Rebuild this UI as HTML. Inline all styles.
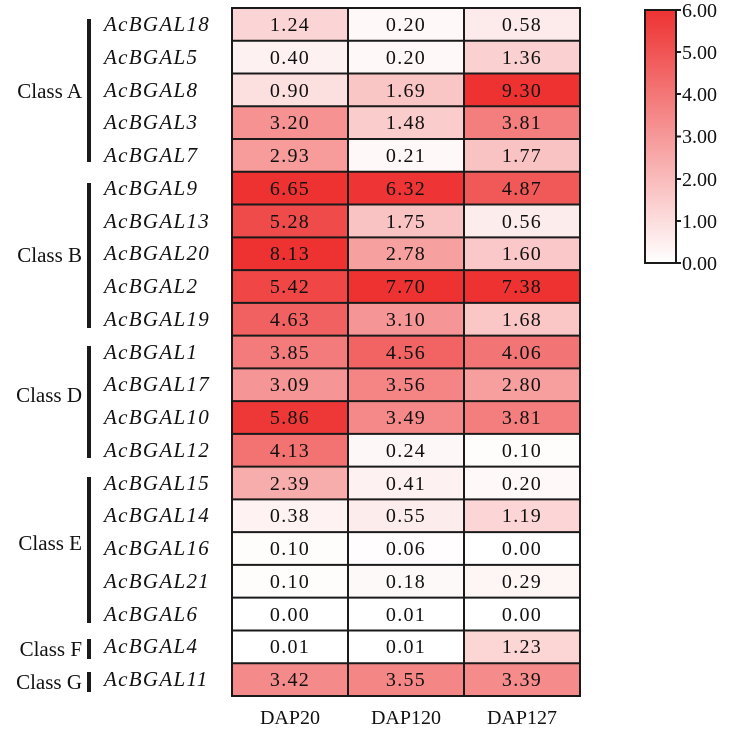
<!DOCTYPE html>
<html><head><meta charset="utf-8"><style>
html,body{margin:0;padding:0;background:#fff;}
svg, svg text{font-family:"Liberation Serif","Times New Roman",Times,serif;}
svg text{fill:#111;}
.g{font-style:italic;font-size:21px;letter-spacing:1.3px;}
.v{font-size:20px;letter-spacing:1.3px;text-anchor:middle;}
.c{font-size:21px;text-anchor:end;}
.t{font-size:20px;}
</style></head><body>
<svg width="730" height="733" viewBox="0 0 730 733" xmlns="http://www.w3.org/2000/svg" font-family="Liberation Serif, Times New Roman, serif">
<defs><linearGradient id="cb" x1="0" y1="1" x2="0" y2="0">
<stop offset="0" stop-color="#fff"/><stop offset="1" stop-color="#ee3232"/></linearGradient></defs>
<g stroke="none">
<rect x="232" y="8" width="116" height="32.76" fill="rgb(251,213,213)"/><rect x="348" y="8" width="116" height="32.76" fill="rgb(254,248,248)"/><rect x="464" y="8" width="116" height="32.76" fill="rgb(253,235,235)"/>
<rect x="232" y="40.76" width="116" height="32.76" fill="rgb(254,241,241)"/><rect x="348" y="40.76" width="116" height="32.76" fill="rgb(254,248,248)"/><rect x="464" y="40.76" width="116" height="32.76" fill="rgb(251,208,208)"/>
<rect x="232" y="73.52" width="116" height="32.76" fill="rgb(252,224,224)"/><rect x="348" y="73.52" width="116" height="32.76" fill="rgb(250,197,197)"/><rect x="464" y="73.52" width="116" height="32.76" fill="rgb(238,50,50)"/>
<rect x="232" y="106.28" width="116" height="32.76" fill="rgb(246,146,146)"/><rect x="348" y="106.28" width="116" height="32.76" fill="rgb(251,204,204)"/><rect x="464" y="106.28" width="116" height="32.76" fill="rgb(244,125,125)"/>
<rect x="232" y="139.04" width="116" height="32.76" fill="rgb(247,155,155)"/><rect x="348" y="139.04" width="116" height="32.76" fill="rgb(254,248,248)"/><rect x="464" y="139.04" width="116" height="32.76" fill="rgb(250,195,195)"/>
<rect x="232" y="171.8" width="116" height="32.76" fill="rgb(238,50,50)"/><rect x="348" y="171.8" width="116" height="32.76" fill="rgb(238,52,52)"/><rect x="464" y="171.8" width="116" height="32.76" fill="rgb(241,89,89)"/>
<rect x="232" y="204.56" width="116" height="32.76" fill="rgb(240,75,75)"/><rect x="348" y="204.56" width="116" height="32.76" fill="rgb(250,195,195)"/><rect x="464" y="204.56" width="116" height="32.76" fill="rgb(253,236,236)"/>
<rect x="232" y="237.32" width="116" height="32.76" fill="rgb(238,50,50)"/><rect x="348" y="237.32" width="116" height="32.76" fill="rgb(247,160,160)"/><rect x="464" y="237.32" width="116" height="32.76" fill="rgb(250,200,200)"/>
<rect x="232" y="270.08" width="116" height="32.76" fill="rgb(240,70,70)"/><rect x="348" y="270.08" width="116" height="32.76" fill="rgb(238,50,50)"/><rect x="464" y="270.08" width="116" height="32.76" fill="rgb(238,50,50)"/>
<rect x="232" y="302.84" width="116" height="32.76" fill="rgb(242,97,97)"/><rect x="348" y="302.84" width="116" height="32.76" fill="rgb(246,149,149)"/><rect x="464" y="302.84" width="116" height="32.76" fill="rgb(250,198,198)"/>
<rect x="232" y="335.6" width="116" height="32.76" fill="rgb(244,123,123)"/><rect x="348" y="335.6" width="116" height="32.76" fill="rgb(242,99,99)"/><rect x="464" y="335.6" width="116" height="32.76" fill="rgb(243,116,116)"/>
<rect x="232" y="368.36" width="116" height="32.76" fill="rgb(246,149,149)"/><rect x="348" y="368.36" width="116" height="32.76" fill="rgb(245,133,133)"/><rect x="464" y="368.36" width="116" height="32.76" fill="rgb(247,159,159)"/>
<rect x="232" y="401.12" width="116" height="32.76" fill="rgb(238,55,55)"/><rect x="348" y="401.12" width="116" height="32.76" fill="rgb(245,136,136)"/><rect x="464" y="401.12" width="116" height="32.76" fill="rgb(244,125,125)"/>
<rect x="232" y="433.88" width="116" height="32.76" fill="rgb(243,114,114)"/><rect x="348" y="433.88" width="116" height="32.76" fill="rgb(254,247,247)"/><rect x="464" y="433.88" width="116" height="32.76" fill="rgb(255,252,252)"/>
<rect x="232" y="466.64" width="116" height="32.76" fill="rgb(248,173,173)"/><rect x="348" y="466.64" width="116" height="32.76" fill="rgb(254,241,241)"/><rect x="464" y="466.64" width="116" height="32.76" fill="rgb(254,248,248)"/>
<rect x="232" y="499.4" width="116" height="32.76" fill="rgb(254,242,242)"/><rect x="348" y="499.4" width="116" height="32.76" fill="rgb(253,236,236)"/><rect x="464" y="499.4" width="116" height="32.76" fill="rgb(252,214,214)"/>
<rect x="232" y="532.16" width="116" height="32.76" fill="rgb(255,252,252)"/><rect x="348" y="532.16" width="116" height="32.76" fill="rgb(255,253,253)"/><rect x="464" y="532.16" width="116" height="32.76" fill="#fff"/>
<rect x="232" y="564.92" width="116" height="32.76" fill="rgb(255,252,252)"/><rect x="348" y="564.92" width="116" height="32.76" fill="rgb(254,249,249)"/><rect x="464" y="564.92" width="116" height="32.76" fill="rgb(254,245,245)"/>
<rect x="232" y="597.68" width="116" height="32.76" fill="#fff"/><rect x="348" y="597.68" width="116" height="32.76" fill="#fff"/><rect x="464" y="597.68" width="116" height="32.76" fill="#fff"/>
<rect x="232" y="630.44" width="116" height="32.76" fill="#fff"/><rect x="348" y="630.44" width="116" height="32.76" fill="#fff"/><rect x="464" y="630.44" width="116" height="32.76" fill="rgb(252,213,213)"/>
<rect x="232" y="663.2" width="116" height="32.76" fill="rgb(245,138,138)"/><rect x="348" y="663.2" width="116" height="32.76" fill="rgb(245,134,134)"/><rect x="464" y="663.2" width="116" height="32.76" fill="rgb(245,139,139)"/>
</g>
<g stroke="#1a1a1a" stroke-width="2">
<rect x="232" y="8" width="348" height="688" fill="none"/>
<line x1="348" y1="8" x2="348" y2="696"/><line x1="464" y1="8" x2="464" y2="696"/>
<line x1="232" y1="40.76" x2="580" y2="40.76"/><line x1="232" y1="73.52" x2="580" y2="73.52"/><line x1="232" y1="106.28" x2="580" y2="106.28"/><line x1="232" y1="139.04" x2="580" y2="139.04"/><line x1="232" y1="171.8" x2="580" y2="171.8"/><line x1="232" y1="204.56" x2="580" y2="204.56"/><line x1="232" y1="237.32" x2="580" y2="237.32"/><line x1="232" y1="270.08" x2="580" y2="270.08"/><line x1="232" y1="302.84" x2="580" y2="302.84"/><line x1="232" y1="335.6" x2="580" y2="335.6"/><line x1="232" y1="368.36" x2="580" y2="368.36"/><line x1="232" y1="401.12" x2="580" y2="401.12"/><line x1="232" y1="433.88" x2="580" y2="433.88"/><line x1="232" y1="466.64" x2="580" y2="466.64"/><line x1="232" y1="499.4" x2="580" y2="499.4"/><line x1="232" y1="532.16" x2="580" y2="532.16"/><line x1="232" y1="564.92" x2="580" y2="564.92"/><line x1="232" y1="597.68" x2="580" y2="597.68"/><line x1="232" y1="630.44" x2="580" y2="630.44"/><line x1="232" y1="663.2" x2="580" y2="663.2"/>
</g>
<text class="v" x="290" y="31">1.24</text><text class="v" x="406" y="31">0.20</text><text class="v" x="522" y="31">0.58</text>
<text class="v" x="290" y="64">0.40</text><text class="v" x="406" y="64">0.20</text><text class="v" x="522" y="64">1.36</text>
<text class="v" x="290" y="97">0.90</text><text class="v" x="406" y="97">1.69</text><text class="v" x="522" y="97">9.30</text>
<text class="v" x="290" y="129">3.20</text><text class="v" x="406" y="129">1.48</text><text class="v" x="522" y="129">3.81</text>
<text class="v" x="290" y="162">2.93</text><text class="v" x="406" y="162">0.21</text><text class="v" x="522" y="162">1.77</text>
<text class="v" x="290" y="195">6.65</text><text class="v" x="406" y="195">6.32</text><text class="v" x="522" y="195">4.87</text>
<text class="v" x="290" y="228">5.28</text><text class="v" x="406" y="228">1.75</text><text class="v" x="522" y="228">0.56</text>
<text class="v" x="290" y="260">8.13</text><text class="v" x="406" y="260">2.78</text><text class="v" x="522" y="260">1.60</text>
<text class="v" x="290" y="293">5.42</text><text class="v" x="406" y="293">7.70</text><text class="v" x="522" y="293">7.38</text>
<text class="v" x="290" y="326">4.63</text><text class="v" x="406" y="326">3.10</text><text class="v" x="522" y="326">1.68</text>
<text class="v" x="290" y="359">3.85</text><text class="v" x="406" y="359">4.56</text><text class="v" x="522" y="359">4.06</text>
<text class="v" x="290" y="391">3.09</text><text class="v" x="406" y="391">3.56</text><text class="v" x="522" y="391">2.80</text>
<text class="v" x="290" y="424">5.86</text><text class="v" x="406" y="424">3.49</text><text class="v" x="522" y="424">3.81</text>
<text class="v" x="290" y="457">4.13</text><text class="v" x="406" y="457">0.24</text><text class="v" x="522" y="457">0.10</text>
<text class="v" x="290" y="490">2.39</text><text class="v" x="406" y="490">0.41</text><text class="v" x="522" y="490">0.20</text>
<text class="v" x="290" y="522">0.38</text><text class="v" x="406" y="522">0.55</text><text class="v" x="522" y="522">1.19</text>
<text class="v" x="290" y="555">0.10</text><text class="v" x="406" y="555">0.06</text><text class="v" x="522" y="555">0.00</text>
<text class="v" x="290" y="588">0.10</text><text class="v" x="406" y="588">0.18</text><text class="v" x="522" y="588">0.29</text>
<text class="v" x="290" y="621">0.00</text><text class="v" x="406" y="621">0.01</text><text class="v" x="522" y="621">0.00</text>
<text class="v" x="290" y="653">0.01</text><text class="v" x="406" y="653">0.01</text><text class="v" x="522" y="653">1.23</text>
<text class="v" x="290" y="686">3.42</text><text class="v" x="406" y="686">3.55</text><text class="v" x="522" y="686">3.39</text>
<text class="g" x="104" y="31">AcBGAL18</text>
<text class="g" x="104" y="64">AcBGAL5</text>
<text class="g" x="104" y="97">AcBGAL8</text>
<text class="g" x="104" y="129">AcBGAL3</text>
<text class="g" x="104" y="162">AcBGAL7</text>
<text class="g" x="104" y="195">AcBGAL9</text>
<text class="g" x="104" y="228">AcBGAL13</text>
<text class="g" x="104" y="260">AcBGAL20</text>
<text class="g" x="104" y="293">AcBGAL2</text>
<text class="g" x="104" y="326">AcBGAL19</text>
<text class="g" x="104" y="359">AcBGAL1</text>
<text class="g" x="104" y="391">AcBGAL17</text>
<text class="g" x="104" y="424">AcBGAL10</text>
<text class="g" x="104" y="457">AcBGAL12</text>
<text class="g" x="104" y="490">AcBGAL15</text>
<text class="g" x="104" y="522">AcBGAL14</text>
<text class="g" x="104" y="555">AcBGAL16</text>
<text class="g" x="104" y="588">AcBGAL21</text>
<text class="g" x="104" y="621">AcBGAL6</text>
<text class="g" x="104" y="653">AcBGAL4</text>
<text class="g" x="104" y="686">AcBGAL11</text>
<g fill="#1a1a1a">
<rect x="87" y="19" width="4" height="143"/>
<rect x="87" y="183" width="4" height="145"/>
<rect x="87" y="346" width="4" height="112"/>
<rect x="87" y="477" width="4" height="146"/>
<rect x="87" y="639" width="4" height="20"/>
<rect x="87" y="672" width="4" height="20"/>
</g>
<text class="c" x="82" y="98">Class A</text>
<text class="c" x="82" y="262">Class B</text>
<text class="c" x="82" y="402">Class D</text>
<text class="c" x="82" y="550">Class E</text>
<text class="c" x="82" y="656">Class F</text>
<text class="c" x="82" y="689">Class G</text>
<text class="t" x="290" y="724" text-anchor="middle">DAP20</text>
<text class="t" x="406" y="724" text-anchor="middle">DAP120</text>
<text class="t" x="522" y="724" text-anchor="middle">DAP127</text>
<rect x="645" y="10" width="31" height="253" fill="url(#cb)" stroke="#1a1a1a" stroke-width="2"/>
<g stroke="#1a1a1a" stroke-width="2">
<line x1="676" y1="10" x2="681" y2="10"/><line x1="676" y1="52" x2="681" y2="52"/><line x1="676" y1="94" x2="681" y2="94"/><line x1="676" y1="136.5" x2="681" y2="136.5"/><line x1="676" y1="179" x2="681" y2="179"/><line x1="676" y1="221" x2="681" y2="221"/><line x1="676" y1="263" x2="681" y2="263"/>
</g>
<text class="t" x="682" y="17">6.00</text>
<text class="t" x="682" y="59">5.00</text>
<text class="t" x="682" y="101">4.00</text>
<text class="t" x="682" y="143">3.00</text>
<text class="t" x="682" y="186">2.00</text>
<text class="t" x="682" y="228">1.00</text>
<text class="t" x="682" y="270">0.00</text>
</svg>
</body></html>
